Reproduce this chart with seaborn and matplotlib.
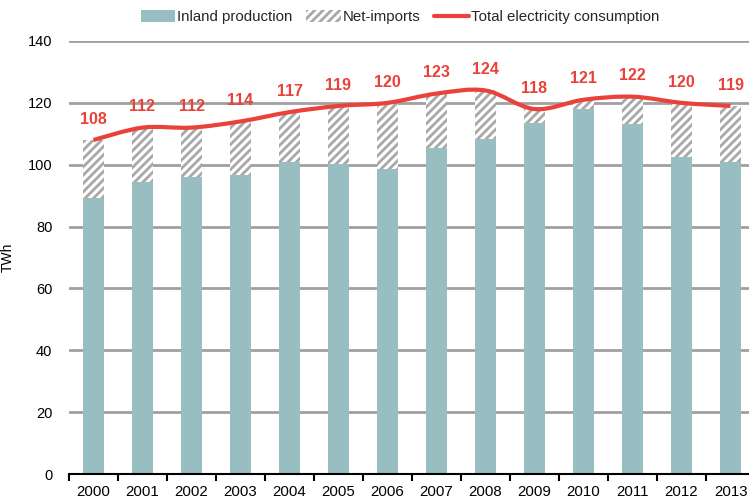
import matplotlib
matplotlib.use("Agg")
import matplotlib.pyplot as plt
from matplotlib.path import Path
from matplotlib.patches import PathPatch, Patch
from matplotlib.lines import Line2D
import seaborn as sns
import pandas as pd
import numpy as np

years = ["2000", "2001", "2002", "2003", "2004", "2005", "2006",
         "2007", "2008", "2009", "2010", "2011", "2012", "2013"]
inland = [89.2, 94.4, 96.0, 96.7, 100.9, 100.2, 98.6, 105.4, 108.3, 113.5, 118.0, 113.2, 102.5, 100.9]
net_imports = [18.8, 17.6, 16.0, 17.3, 16.1, 18.8, 21.4, 17.6, 15.7, 4.5, 3.0, 8.8, 17.5, 18.1]
total = [108, 112, 112, 114, 117, 119, 120, 123, 124, 118, 121, 122, 120, 119]

sns.set_theme(style="white")
plt.rcParams['font.family'] = ['Liberation Sans', 'DejaVu Sans']
plt.rcParams['hatch.linewidth'] = 2.0

BAR = "#98BEC1"
HATCH = "#A8A8A8"
RED = "#E8423A"

df = pd.DataFrame({"year": years, "inland": inland,
                   "stack": [a + b for a, b in zip(inland, net_imports)],
                   "total": total})

fig = plt.figure(figsize=(7.49, 4.99), dpi=100)
ax = fig.add_axes([69/749, 25/499, 686/749, 433/499])

sns.barplot(data=df, x="year", y="stack", order=years, color="white",
            edgecolor=HATCH, hatch="////", linewidth=0, width=0.41,
            saturation=1, ax=ax)
sns.barplot(data=df, x="year", y="inland", order=years, color=BAR,
            linewidth=0, width=0.41, saturation=1, ax=ax)

# smooth line (Catmull-Rom -> cubic Bezier) through the total values
xs = np.arange(len(years), dtype=float)
ys = np.array(total, dtype=float)
pts = np.column_stack([xs, ys])
verts = [tuple(pts[0])]
codes = [Path.MOVETO]
n = len(pts)
for i in range(n - 1):
    p0 = pts[i - 1] if i > 0 else pts[i]
    p1 = pts[i]
    p2 = pts[i + 1]
    p3 = pts[i + 2] if i + 2 < n else pts[i + 1]
    c1 = p1 + (p2 - p0) / 6.0
    c2 = p2 - (p3 - p1) / 6.0
    verts += [tuple(c1), tuple(c2), tuple(p2)]
    codes += [Path.CURVE4] * 3
ax.add_patch(PathPatch(Path(verts, codes), facecolor="none", edgecolor=RED,
                       lw=3, capstyle="butt", zorder=5))

for x, v in zip(xs, total):
    ax.annotate(f"{v}", (x, v), xytext=(0, 15), textcoords="offset points",
                ha="center", va="center", color=RED, fontsize=11.5,
                fontweight="bold", zorder=6)

ax.set_ylim(0, 140)
ax.set_xlim(-0.5, 13.5)
ax.set_yticks(range(0, 141, 20))
ax.yaxis.grid(True, color="#A0A0A0", lw=2)
ax.set_axisbelow(True)
for s in ["top", "right", "left"]:
    ax.spines[s].set_visible(False)
ax.spines["bottom"].set_color("black")
ax.spines["bottom"].set_linewidth(1.5)
ax.spines["bottom"].set_zorder(7)

ax.set_xticks(xs)
ax.set_xticklabels(years)
ax.set_xticks(np.arange(-0.5, 13.6, 1), minor=True)
ax.tick_params(axis="x", which="major", length=0, pad=8, labelsize=10.8, colors="black")
ax.tick_params(axis="x", which="minor", length=5, width=1.5, direction="out", color="black", bottom=True)
ax.tick_params(axis="y", length=0, pad=12, labelsize=10.5, colors="black")
ax.set_xlabel("")
ax.set_ylabel("TWh", fontsize=10, color="black")
ax.yaxis.set_label_coords(-0.079, 0.5)

handles = [Patch(facecolor=BAR, edgecolor="none"),
           Patch(facecolor="white", edgecolor=HATCH, hatch="////", linewidth=0),
           Line2D([0], [0], color=RED, lw=3)]
labels = ["Inland production", "Net-imports", "Total electricity consumption"]
fig.legend(handles, labels, loc="center", bbox_to_anchor=(400/749, 1 - 17/499),
           ncol=3, frameon=False, fontsize=10.8, handlelength=2.3,
           handletextpad=0.15, columnspacing=0.9, handleheight=0.8)

fig.savefig("out.png", dpi=100)
